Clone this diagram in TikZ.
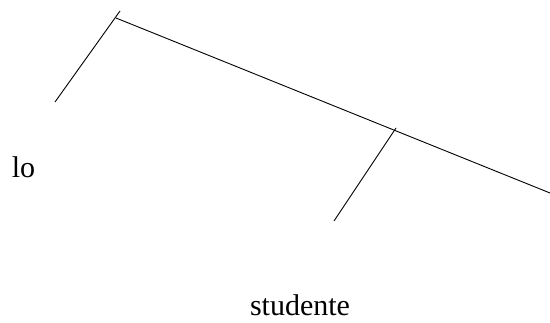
\documentclass[tikz,border=0pt]{standalone}
\usepackage{fontspec}
\setmainfont{Liberation Serif}
\usetikzlibrary{positioning}

\begin{document}
\begin{tikzpicture}[x=1pt, y=1pt, every node/.style={font=\fontsize{30}{36}\selectfont, inner sep=0pt}]
  \useasboundingbox (0,0) rectangle (550,323);
  \coordinate (t1) at (120,312);
  \coordinate (b1) at (55,221);
  \coordinate (s) at (116,305);
  \coordinate (e) at (550,130);
  \coordinate (t2) at (396,195);
  \coordinate (b2) at (334,102);
  \draw[line width=0.9pt] (t1) -- (b1);
  \draw[line width=0.9pt] (s) -- (e);
  \draw[line width=0.9pt] (t2) -- (b2);
  \node[anchor=base] (lo) at (23.5,145) {lo};
  \node[anchor=base] (stud) at (300,7) {studente};
\end{tikzpicture}
\end{document}
